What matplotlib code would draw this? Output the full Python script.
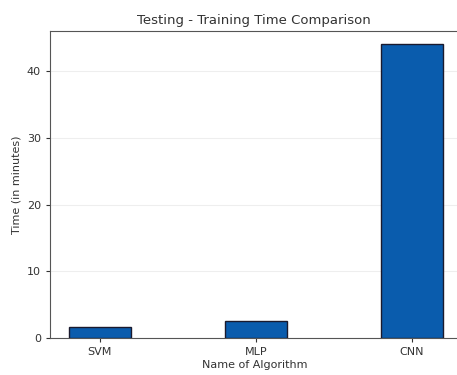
import matplotlib
matplotlib.use("Agg")
import matplotlib.pyplot as plt

algorithms = ["SVM", "MLP", "CNN"]
times = [1.65, 2.5, 44.0]

fig = plt.figure(figsize=(4.57, 3.75), dpi=100)
ax = fig.add_axes([0.109, 0.099, 0.895, 0.818])
ax.bar(algorithms, times, width=0.4, color="#0A5CAD", edgecolor="#1a1a2e", linewidth=1.0, zorder=3)
ax.set_ylim(0, 46)
ax.set_xlim(-0.32, 2.30)
ax.set_yticks([0, 10, 20, 30, 40])
ax.yaxis.grid(True, color="#eeeeee", linewidth=0.8, zorder=0)
ax.set_title("Testing - Training Time Comparison", fontsize=9.5, color="#333333", pad=5)
ax.set_xlabel("Name of Algorithm", fontsize=8, color="#333333", labelpad=2)
ax.set_ylabel("Time (in minutes)", fontsize=8, color="#333333", labelpad=4)
ax.tick_params(labelsize=8, colors="#333333", length=3)
for s in ax.spines.values():
    s.set_color("#555555")
fig.savefig("out.png", dpi=100)
